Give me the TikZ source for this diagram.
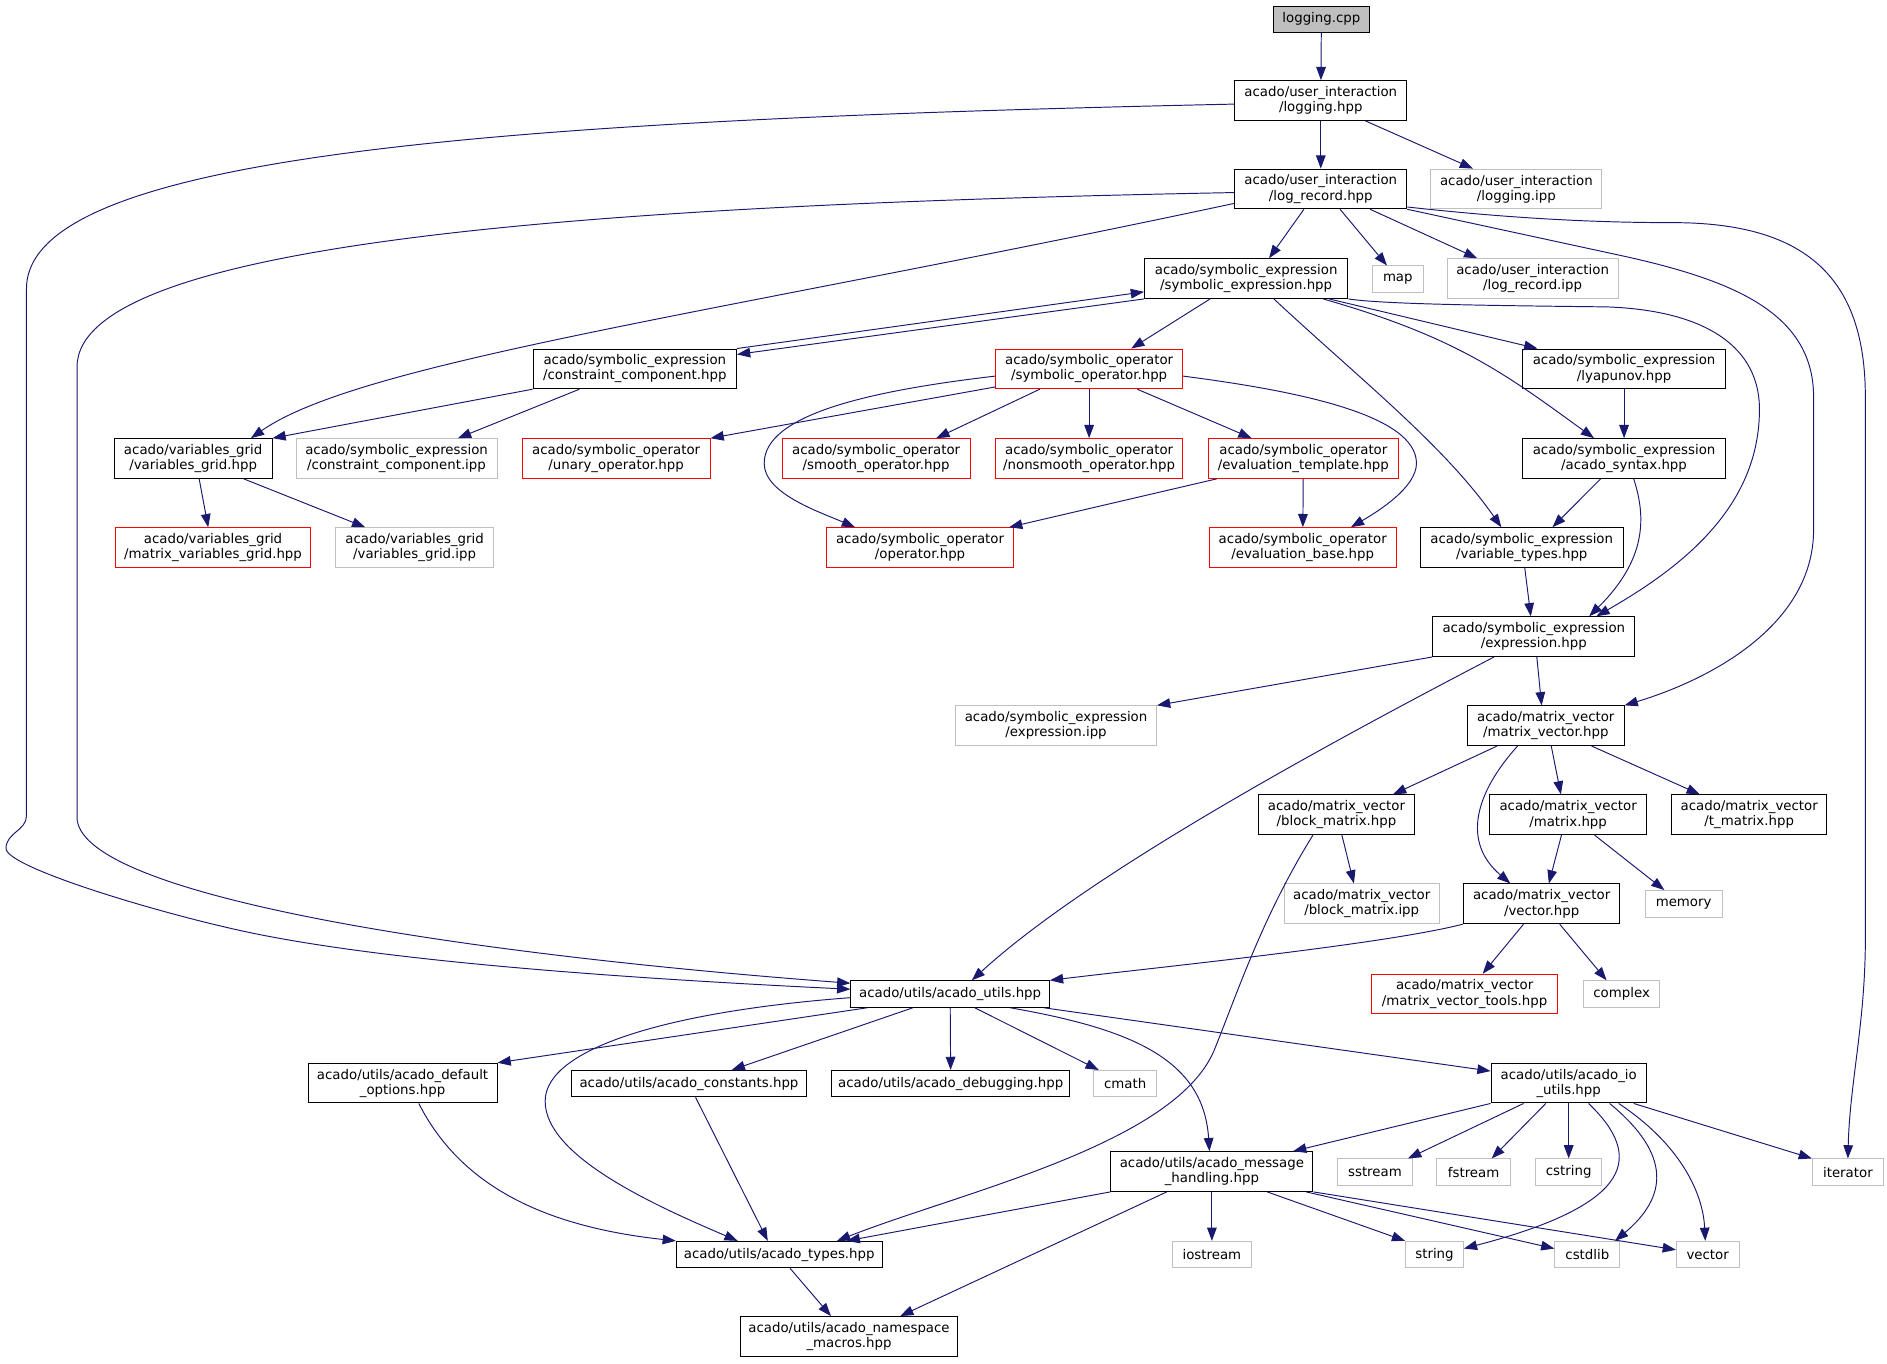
\documentclass[tikz,border=0pt]{standalone}
\usepackage{fontspec}
\setmainfont{DejaVu Sans}
\usetikzlibrary{arrows.meta}
\definecolor{edgeblue}{HTML}{191970}
\definecolor{grey75}{HTML}{BFBFBF}
\tikzset{
	hdr/.style={draw=black, fill=white, line width=0.8pt, inner sep=0pt, minimum height=22pt, align=center, font=\fontsize{11.08pt}{12.6pt}\selectfont},
	two/.style={minimum height=33pt},
	ext/.style={draw=grey75},
	trunc/.style={draw=red},
	bw/.style={minimum width=#1pt},
	dep/.style={draw=edgeblue, line width=0.8pt, -{Triangle[length=11pt,width=8pt]}}
}
\begin{document}
\begin{tikzpicture}[x=1pt, y=-1pt]
	\useasboundingbox (0,0) rectangle (1568,1133);

	\node[hdr, fill=grey75, bw=80] (lcpp) at (1098,16) {logging.cpp};
	\node[hdr, two, bw=143] (lhpp) at (1097.5,83.5) {acado/user\_interaction\\/logging.hpp};
	\node[hdr, two, bw=143] (lrec) at (1097.5,157) {acado/user\_interaction\\/log\_record.hpp};
	\node[hdr, two, ext, bw=142] (lipp) at (1260,157) {acado/user\_interaction\\/logging.ipp};
	\node[hdr, two, bw=169] (sexpr) at (1035.5,231.5) {acado/symbolic\_expression\\/symbolic\_expression.hpp};
	\node[hdr, ext, bw=42] (map) at (1161.5,232) {map};
	\node[hdr, two, ext, bw=142] (lrecipp) at (1273.5,231.5) {acado/user\_interaction\\/log\_record.ipp};
	\node[hdr, two, bw=169] (ccomp) at (527.5,306.5) {acado/symbolic\_expression\\/constraint\_component.hpp};
	\node[hdr, two, trunc, bw=155] (sop) at (905,306.5) {acado/symbolic\_operator\\/symbolic\_operator.hpp};
	\node[hdr, two, bw=169] (lyap) at (1349.5,306.5) {acado/symbolic\_expression\\/lyapunov.hpp};
	\node[hdr, two, bw=131] (vgrid) at (160.5,381) {acado/variables\_grid\\/variables\_grid.hpp};
	\node[hdr, two, ext, bw=167] (ccipp) at (329.5,381) {acado/symbolic\_expression\\/constraint\_component.ipp};
	\node[hdr, two, trunc, bw=156] (unary) at (512,381) {acado/symbolic\_operator\\/unary\_operator.hpp};
	\node[hdr, two, trunc, bw=156] (smooth) at (728,381) {acado/symbolic\_operator\\/smooth\_operator.hpp};
	\node[hdr, two, trunc, bw=155] (nonsmooth) at (905,381) {acado/symbolic\_operator\\/nonsmooth\_operator.hpp};
	\node[hdr, two, trunc, bw=158] (evtempl) at (1083,381) {acado/symbolic\_operator\\/evaluation\_template.hpp};
	\node[hdr, two, bw=169] (syntax) at (1349.5,381) {acado/symbolic\_expression\\/acado\_syntax.hpp};
	\node[hdr, two, trunc, bw=162] (mvgrid) at (177,455) {acado/variables\_grid\\/matrix\_variables\_grid.hpp};
	\node[hdr, two, ext, bw=131] (vgipp) at (344.5,455) {acado/variables\_grid\\/variables\_grid.ipp};
	\node[hdr, two, trunc, bw=155] (oper) at (764.5,455) {acado/symbolic\_operator\\/operator.hpp};
	\node[hdr, two, trunc, bw=155] (evbase) at (1082.5,455) {acado/symbolic\_operator\\/evaluation\_base.hpp};
	\node[hdr, two, bw=169] (vartypes) at (1264.5,455) {acado/symbolic\_expression\\/variable\_types.hpp};
	\node[hdr, two, bw=168] (expr) at (1274.5,529) {acado/symbolic\_expression\\/expression.hpp};
	\node[hdr, two, ext, bw=167] (expripp) at (877.5,603) {acado/symbolic\_expression\\/expression.ipp};
	\node[hdr, two, bw=130] (mv) at (1284.5,603) {acado/matrix\_vector\\/matrix\_vector.hpp};
	\node[hdr, two, bw=130] (blockm) at (1110.5,677) {acado/matrix\_vector\\/block\_matrix.hpp};
	\node[hdr, two, bw=130] (matrix) at (1303,677) {acado/matrix\_vector\\/matrix.hpp};
	\node[hdr, two, bw=129] (tmatrix) at (1453.5,677) {acado/matrix\_vector\\/t\_matrix.hpp};
	\node[hdr, two, ext, bw=129] (bmipp) at (1131.5,751) {acado/matrix\_vector\\/block\_matrix.ipp};
	\node[hdr, two, bw=130] (vec) at (1281,751) {acado/matrix\_vector\\/vector.hpp};
	\node[hdr, ext, bw=64] (memory) at (1399,751) {memory};
	\node[hdr, bw=165] (utils) at (789.5,826) {acado/utils/acado\_utils.hpp};
	\node[hdr, two, trunc, bw=154] (mvtools) at (1217,826) {acado/matrix\_vector\\/matrix\_vector\_tools.hpp};
	\node[hdr, ext, bw=63] (complex) at (1347.5,826) {complex};
	\node[hdr, two, bw=157] (defopt) at (334.5,900) {acado/utils/acado\_default\\\_options.hpp};
	\node[hdr, bw=195] (consts) at (572.5,900.5) {acado/utils/acado\_constants.hpp};
	\node[hdr, bw=198] (debug) at (790,900.5) {acado/utils/acado\_debugging.hpp};
	\node[hdr, ext, bw=52] (cmath) at (935,900.5) {cmath};
	\node[hdr, two, bw=129] (ioutils) at (1303.5,900) {acado/utils/acado\_io\\\_utils.hpp};
	\node[hdr, two, bw=168] (msg) at (1007,973.5) {acado/utils/acado\_message\\\_handling.hpp};
	\node[hdr, ext, bw=63] (sstream) at (1142.5,974) {sstream};
	\node[hdr, ext, bw=61] (fstream) at (1224.5,974) {fstream};
	\node[hdr, ext, bw=55] (cstring) at (1303.5,974) {cstring};
	\node[hdr, ext, bw=59] (iterator) at (1535.5,974) {iterator};
	\node[hdr, bw=171] (types) at (647.5,1042.5) {acado/utils/acado\_types.hpp};
	\node[hdr, ext, bw=66] (iostream) at (1007,1042.5) {iostream};
	\node[hdr, ext, bw=48] (string) at (1192,1042.5) {string};
	\node[hdr, ext, bw=54] (cstdlib) at (1319,1042.5) {cstdlib};
	\node[hdr, ext, bw=52] (vector) at (1419,1042.5) {vector};
	\node[hdr, two, bw=181] (nsmacros) at (705.5,1110.5) {acado/utils/acado\_namespace\\\_macros.hpp};

	% logging / log_record
	\draw[dep] (lcpp)--(lhpp);
	\draw[dep] (lhpp)--(lrec);
	\draw[dep] ([xshift=37pt]lhpp.south)--([xshift=-36pt]lipp.north);
	\draw[dep] ([yshift=-3pt]lhpp.west) .. controls (400,100) and (22,130) .. (22,240) -- (22,678) .. controls (22,690) and (5,692) .. (5,705) .. controls (5,720) and (120,755) .. (190,771) .. controls (300,797) and (500,812) .. ([yshift=4pt]utils.west);
	\draw[dep] ([xshift=-14pt]lrec.south)--([xshift=19pt]sexpr.north);
	\draw[dep] ([xshift=16pt]lrec.south)--([xshift=-9pt]map.north);
	\draw[dep] ([xshift=41pt]lrec.south)--([xshift=-46pt]lrecipp.north);
	\draw[dep] ([yshift=-12pt]lrec.west) .. controls (600,260) and (300,300) .. ([xshift=48pt]vgrid.north);
	\draw[dep] ([yshift=-3pt]lrec.west) .. controls (500,170) and (64,200) .. (64,305) -- (64,679) .. controls (64,740) and (350,790) .. ([yshift=9pt]utils.west);
	\draw[dep] (lrec.south east) -- (1350,213) .. controls (1440,233) and (1507,260) .. (1507,330) -- (1507,440) .. controls (1507,520) and (1420,565) .. (mv.north east);
	\draw[dep] ([yshift=-15pt]lrec.east) .. controls (1260,182) and (1330,185) .. (1390,185) .. controls (1500,185) and (1550,230) .. (1550,330) -- (1550,780) .. controls (1550,850) and (1537,900) .. (iterator.north);

	% symbolic expression
	\draw[dep] (sexpr.south west)--([yshift=12pt]ccomp.east);
	\draw[dep] (ccomp.north east)--([yshift=-11pt]sexpr.west);
	\draw[dep] ([xshift=-30pt]sexpr.south)--([xshift=35pt]sop.north);
	\draw[dep] ([xshift=69pt]sexpr.south)--([xshift=-72pt]lyap.north);
	\draw[dep] ([xshift=64pt]sexpr.south) .. controls (1210,280) and (1250,310) .. ([xshift=-25pt]syntax.north);
	\draw[dep] ([xshift=23pt]sexpr.south) .. controls (1130,315) and (1200,370) .. ([xshift=-17pt]vartypes.north);
	\draw[dep] (sexpr.south east) .. controls (1150,253) and (1250,254) .. (1335,255) .. controls (1420,258) and (1462,290) .. (1462,340) .. controls (1462,420) and (1400,470) .. ([xshift=52pt]expr.north);
	\draw[dep] (ccomp.south west)--(vgrid.north east);
	\draw[dep] ([xshift=-46pt]ccomp.south)--([xshift=51pt]ccipp.north);

	% symbolic operator
	\draw[dep] ([yshift=-15pt]sop.west)--(unary.north east);
	\draw[dep] ([xshift=-41pt]sop.south)--([xshift=50pt]smooth.north);
	\draw[dep] (sop)--(nonsmooth);
	\draw[dep] ([xshift=40pt]sop.south)--([xshift=-43pt]evtempl.north);
	\draw[dep] ([yshift=-6pt]sop.west) .. controls (720,325) and (635,345) .. (635,385) .. controls (635,410) and (680,425) .. ([xshift=-54pt]oper.north);
	\draw[dep] ([yshift=-6pt]sop.east) .. controls (1080,325) and (1177,345) .. (1177,385) .. controls (1177,405) and (1145,425) .. ([xshift=40pt]evbase.north);
	\draw[dep] (lyap)--(syntax);
	\draw[dep] ([xshift=5pt]vgrid.south)--([xshift=-4pt]mvgrid.north);
	\draw[dep] ([xshift=42pt]vgrid.south)--([xshift=-41pt]vgipp.north);
	\draw[dep] ([xshift=-72pt]evtempl.south)--([xshift=74pt]oper.north);
	\draw[dep] (evtempl)--(evbase);
	\draw[dep] ([xshift=-19.5pt]syntax.south)--([xshift=25.5pt]vartypes.north);
	\draw[dep] ([xshift=8pt]syntax.south) .. controls (1368,430) and (1368,465) .. ([xshift=46pt]expr.north);
	\draw[dep] ([xshift=2.5pt]vartypes.south)--([xshift=-2.5pt]expr.north);

	% expression / matrix_vector
	\draw[dep] (expr.south west)--(expripp.north east);
	\draw[dep] ([xshift=-33pt]expr.south) .. controls (1080,630) and (900,730) .. ([xshift=18pt]utils.north);
	\draw[dep] ([xshift=2.5pt]expr.south)--([xshift=-3.5pt]mv.north);
	\draw[dep] ([xshift=-40.5pt]mv.south)--([xshift=47pt]blockm.north);
	\draw[dep] ([xshift=4.5pt]mv.south)--([xshift=-6pt]matrix.north);
	\draw[dep] ([xshift=38pt]mv.south)--([xshift=-41pt]tmatrix.north);
	\draw[dep] ([xshift=-23.5pt]mv.south) .. controls (1225,660) and (1215,700) .. ([xshift=-26pt]vec.north);
	\draw[dep] ([xshift=4.5pt]blockm.south)--([xshift=-6.5pt]bmipp.north);
	\draw[dep] ([xshift=-19.5pt]blockm.south) .. controls (1050,760) and (1030,820) .. (1010,870) .. controls (980,950) and (800,990) .. ([xshift=48pt]types.north);
	\draw[dep] ([xshift=-5.5pt]matrix.south)--([xshift=6pt]vec.north);
	\draw[dep] ([xshift=22pt]matrix.south)--([xshift=-16pt]memory.north);
	\draw[dep] (vec.south west) .. controls (1150,785) and (950,805) .. (utils.north east);
	\draw[dep] ([xshift=-15pt]vec.south)--([xshift=15pt]mvtools.north);
	\draw[dep] ([xshift=15pt]vec.south)--([xshift=-12.5pt]complex.north);

	% utils
	\draw[dep] ([xshift=14pt]utils.south west)--(defopt.north east);
	\draw[dep] ([yshift=-3pt]utils.west) .. controls (560,840) and (453,870) .. (453,915) .. controls (453,960) and (540,1000) .. ([xshift=-34.5pt]types.north);
	\draw[dep] ([xshift=-31pt]utils.south)--([xshift=35.5pt]consts.north);
	\draw[dep] (utils)--(debug);
	\draw[dep] ([xshift=20.5pt]utils.south)--([xshift=-22pt]cmath.north);
	\draw[dep] ([xshift=50pt]utils.south) .. controls (940,855) and (1000,880) .. ([xshift=-2pt]msg.north);
	\draw[dep] ([xshift=-5pt]utils.south east)--([yshift=10pt]ioutils.west);
	\draw[dep] ([xshift=13.5pt]defopt.south) .. controls (385,990) and (460,1020) .. (types.north west);
	\draw[dep] ([xshift=5.5pt]consts.south)--([xshift=-9.5pt]types.north);
	\draw[dep] (ioutils.south west)--([xshift=67.5pt]msg.north);
	\draw[dep] ([xshift=-37.5pt]ioutils.south)--([xshift=27.5pt]sstream.north);
	\draw[dep] ([xshift=-19pt]ioutils.south)--([xshift=15pt]fstream.north);
	\draw[dep] (ioutils)--(cstring);
	\draw[dep] ([xshift=16.5pt]ioutils.south) .. controls (1365,960) and (1360,1000) .. ([yshift=5pt]string.east);
	\draw[dep] ([xshift=34pt]ioutils.south) .. controls (1390,960) and (1385,995) .. ([xshift=23pt]cstdlib.north);
	\draw[dep] ([xshift=41.5pt]ioutils.south) .. controls (1395,950) and (1415,990) .. ([xshift=-2pt]vector.north);
	\draw[dep] ([xshift=54pt]ioutils.south)--(iterator.north west);
	\draw[dep] (msg.south west)--([xshift=56pt]types.north);
	\draw[dep] ([xshift=-37.5pt]msg.south)--([xshift=42.5pt]nsmacros.north);
	\draw[dep] (msg)--(iostream);
	\draw[dep] ([xshift=46pt]msg.south)--(string.north west);
	\draw[dep] ([xshift=-6pt]msg.south east)--([yshift=5pt]cstdlib.west);
	\draw[dep] (msg.south east)--([yshift=4pt]vector.west);
	\draw[dep] ([xshift=9pt]types.south)--([xshift=-15pt]nsmacros.north);
\end{tikzpicture}
\end{document}
